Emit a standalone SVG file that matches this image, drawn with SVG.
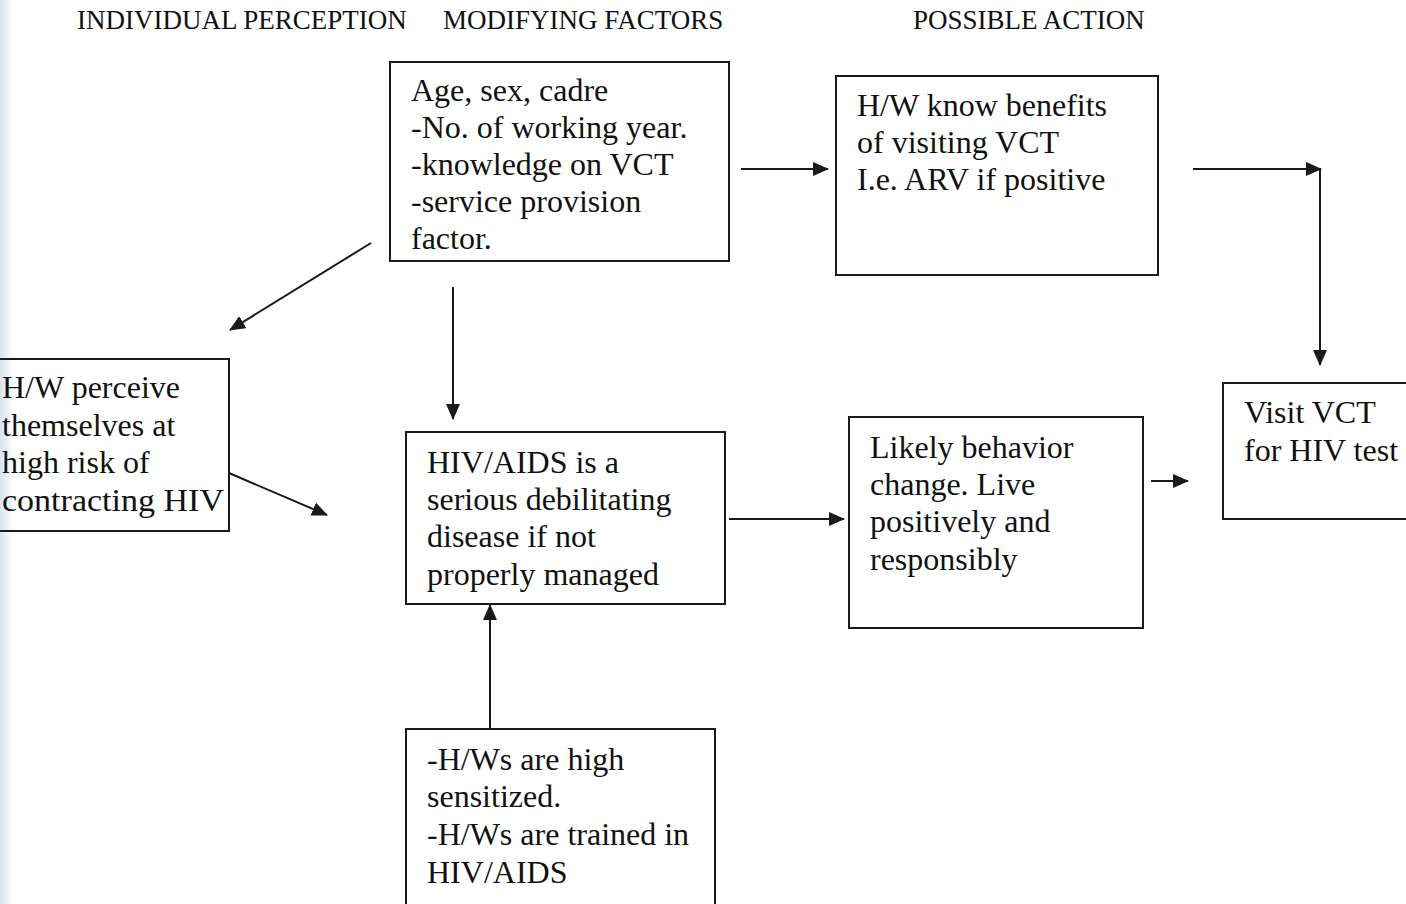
<svg xmlns="http://www.w3.org/2000/svg" width="1406" height="904" viewBox="0 0 1406 904">
  <defs>
    <style>
      .box { fill: none; stroke: #1a1a1a; stroke-width: 2; }
      .t { font-family: "Liberation Serif", "Times New Roman", serif; font-size: 32px; fill: #111111; }
      .h { font-family: "Liberation Serif", "Times New Roman", serif; font-size: 27px; fill: #111111; }
      .c { fill: none; stroke: #1a1a1a; stroke-width: 2; }
    </style>
    <marker id="arrL" viewBox="0 0 16 14" refX="15" refY="7" markerWidth="16" markerHeight="14" markerUnits="userSpaceOnUse" orient="auto">
      <path d="M0,0 L16,7 L0,14 z" fill="#1a1a1a"/>
    </marker>
    <linearGradient id="edge" x1="0" y1="0" x2="1" y2="0">
      <stop offset="0" stop-color="#d9e3ee"/>
      <stop offset="1" stop-color="#ffffff"/>
    </linearGradient>
  </defs>
  <rect x="0" y="0" width="1406" height="904" fill="#ffffff"/>
  <rect x="0" y="0" width="14" height="904" fill="url(#edge)"/>

  <g id="headers">
    <text class="h" x="77" y="29">INDIVIDUAL PERCEPTION</text>
    <text class="h" x="443" y="29">MODIFYING FACTORS</text>
    <text class="h" x="913" y="29">POSSIBLE ACTION</text>
  </g>

  <g id="connectors">
    <line class="c" x1="741" y1="169" x2="828" y2="169" marker-end="url(#arrL)"/>
    <line class="c" x1="1193" y1="169" x2="1321" y2="169" marker-end="url(#arrL)"/>
    <line class="c" x1="1320" y1="169" x2="1320" y2="365" marker-end="url(#arrL)"/>
    <line class="c" x1="371" y1="243" x2="230" y2="330" marker-end="url(#arrL)"/>
    <line class="c" x1="453" y1="287" x2="453" y2="419" marker-end="url(#arrL)"/>
    <line class="c" x1="229" y1="473" x2="327" y2="515" marker-end="url(#arrL)"/>
    <line class="c" x1="729" y1="519" x2="844" y2="519" marker-end="url(#arrL)"/>
    <line class="c" x1="1151" y1="481" x2="1188" y2="481" marker-end="url(#arrL)"/>
    <line class="c" x1="490" y1="729" x2="490" y2="605" marker-end="url(#arrL)"/>
  </g>

  <g id="node-modifying">
    <rect class="box" x="390" y="62" width="339" height="199"/>
    <text class="t" x="411" y="101">Age, sex, cadre</text>
    <text class="t" x="411" y="138">-No. of working year.</text>
    <text class="t" x="411" y="175">-knowledge on VCT</text>
    <text class="t" x="411" y="212">-service provision</text>
    <text class="t" x="411" y="249">factor.</text>
  </g>

  <g id="node-benefits">
    <rect class="box" x="836" y="76" width="322" height="199"/>
    <text class="t" x="857" y="116">H/W know benefits</text>
    <text class="t" x="857" y="153">of visiting VCT</text>
    <text class="t" x="857" y="190">I.e. ARV if positive</text>
  </g>

  <g id="node-perceive">
    <rect class="box" x="-10" y="359" width="239" height="172"/>
    <text class="t" x="2" y="398">H/W perceive</text>
    <text class="t" x="2" y="436">themselves at</text>
    <text class="t" x="2" y="473">high risk of</text>
    <text class="t" x="2" y="511" textLength="222" lengthAdjust="spacingAndGlyphs">contracting HIV</text>
  </g>

  <g id="node-serious">
    <rect class="box" x="406" y="432" width="319" height="172"/>
    <text class="t" x="427" y="473">HIV/AIDS is a</text>
    <text class="t" x="427" y="510">serious debilitating</text>
    <text class="t" x="427" y="547">disease if not</text>
    <text class="t" x="427" y="585">properly managed</text>
  </g>

  <g id="node-behavior">
    <rect class="box" x="849" y="417" width="294" height="211"/>
    <text class="t" x="870" y="458">Likely behavior</text>
    <text class="t" x="870" y="495">change. Live</text>
    <text class="t" x="870" y="532">positively and</text>
    <text class="t" x="870" y="570">responsibly</text>
  </g>

  <g id="node-visit">
    <rect class="box" x="1223" y="383" width="190" height="136"/>
    <text class="t" x="1244" y="423">Visit VCT</text>
    <text class="t" x="1244" y="461">for HIV test</text>
  </g>

  <g id="node-sensitized">
    <rect class="box" x="406" y="729" width="309" height="190"/>
    <text class="t" x="427" y="770">-H/Ws are high</text>
    <text class="t" x="427" y="807">sensitized.</text>
    <text class="t" x="427" y="845">-H/Ws are trained in</text>
    <text class="t" x="427" y="883">HIV/AIDS</text>
  </g>
</svg>
